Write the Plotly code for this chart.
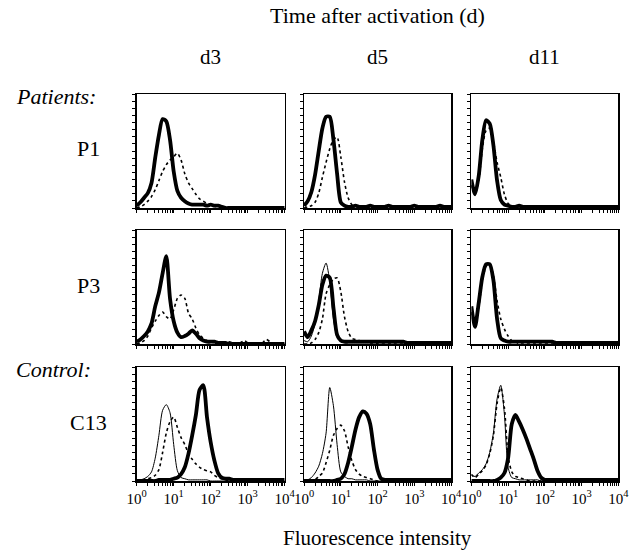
import plotly.graph_objects as go

# ---------------- data ----------------
# channel positions (log10 of fluorescence intensity)
bins_log10 = [0.0, 0.1, 0.2, 0.3, 0.4, 0.5, 0.6, 0.7, 0.8, 0.9,
              1.0, 1.1, 1.2, 1.3, 1.4, 1.5, 1.6, 1.7, 1.8, 1.9,
              2.0, 2.1, 2.2, 2.3, 2.4, 2.5, 2.6, 2.7, 2.8, 2.9,
              3.0, 3.1, 3.2, 3.3, 3.4, 3.5, 3.6, 3.7, 3.8, 3.9, 4.0]

column_labels = ["d3", "d5", "d11"]
row_labels = ["P1", "P3", "C13"]
tick_labels = ["10<sup>0</sup>", "10<sup>1</sup>", "10<sup>2</sup>", "10<sup>3</sup>", "10<sup>4</sup>"]

# cell counts, % of panel height
p1_d3_thick = [2, 5, 9, 13, 22, 44, 64, 78, 76, 60, 32, 15, 9, 6, 4, 3, 3, 3, 3, 2,
               3, 2, 2, 1, 0, 0, 0, 0, 0, 0, 0, 0, 0, 0, 0, 0, 0, 0, 0, 0, 0]
p1_d3_dotted = [0, 1, 3, 6, 10, 16, 24, 32, 38, 42, 45, 48, 42, 30, 22, 17, 12, 8, 6, 4,
                3, 2, 2, 1, 0, 0, 0, 0, 0, 0, 0, 0, 0, 0, 0, 0, 0, 0, 0, 0, 0]

p1_d5_thick = [2, 6, 14, 29, 50, 70, 80, 80, 60, 30, 5, 2, 1, 1, 2, 1, 1, 1, 2, 1,
               1, 1, 1, 2, 1, 1, 1, 1, 1, 1, 2, 1, 1, 1, 1, 1, 1, 2, 1, 1, 1]
p1_d5_dotted = [0, 1, 2, 5, 13, 27, 40, 52, 60, 62, 45, 23, 9, 3, 2, 1, 0, 0, 0, 0,
                0, 0, 0, 0, 0, 0, 0, 0, 0, 0, 0, 0, 0, 0, 0, 0, 0, 0, 0, 0, 0]

p1_d11_thick = [25, 12, 28, 60, 77, 74, 55, 24, 7, 3, 2, 1, 1, 2, 1, 1, 1, 1, 1, 1,
                1, 1, 1, 1, 1, 1, 1, 1, 1, 1, 1, 1, 1, 1, 1, 1, 1, 1, 1, 1, 1]
p1_d11_dotted = [20, 12, 24, 52, 68, 70, 58, 40, 27, 12, 4, 2, 0, 0, 0, 0, 0, 0, 0, 0,
                 0, 0, 0, 0, 0, 0, 0, 0, 0, 0, 0, 0, 0, 0, 0, 0, 0, 0, 0, 0, 0]

p3_d3_thick = [2, 4, 7, 11, 18, 33, 45, 62, 77, 40, 20, 10, 6, 7, 9, 12, 9, 5, 3, 2,
               2, 2, 1, 1, 1, 0, 0, 0, 0, 0, 0, 0, 0, 0, 0, 0, 0, 0, 0, 0, 0]
p3_d3_dotted = [0, 1, 3, 7, 14, 20, 25, 28, 24, 22, 30, 40, 43, 40, 27, 22, 14, 8, 5, 3,
                2, 1, 1, 1, 1, 2, 1, 0, 1, 3, 1, 0, 0, 0, 1, 4, 2, 0, 0, 0, 0]

p3_d5_thick = [11, 6, 12, 20, 34, 52, 60, 58, 32, 8, 3, 2, 2, 2, 2, 2, 2, 2, 2, 2,
               2, 2, 2, 2, 2, 2, 2, 2, 1, 1, 1, 1, 1, 1, 1, 1, 1, 1, 1, 1, 1]
p3_d5_thin = [3, 2, 7, 18, 38, 62, 71, 55, 22, 6, 2, 1, 1, 1, 1, 1, 1, 1, 1, 1,
              1, 1, 1, 1, 1, 1, 1, 1, 1, 1, 1, 1, 1, 1, 1, 1, 1, 1, 1, 1, 1]
p3_d5_dotted = [0, 0, 1, 4, 10, 22, 44, 52, 57, 58, 46, 24, 11, 5, 4, 3, 2, 2, 1, 1,
                0, 0, 0, 0, 0, 0, 0, 0, 0, 0, 0, 0, 0, 0, 0, 0, 0, 0, 0, 0, 0]

p3_d11_thick = [33, 15, 36, 59, 70, 70, 56, 22, 5, 3, 2, 2, 2, 2, 2, 2, 2, 2, 2, 2,
                2, 2, 2, 1, 1, 1, 1, 1, 1, 1, 1, 1, 1, 1, 1, 1, 1, 1, 1, 1, 1]
p3_d11_dotted = [28, 14, 32, 55, 68, 70, 60, 38, 22, 13, 7, 3, 2, 0, 0, 0, 0, 0, 0, 0,
                 0, 0, 0, 0, 0, 0, 0, 0, 0, 0, 0, 0, 0, 0, 0, 0, 0, 0, 0, 0, 0]

c13_d3_thin = [1, 1, 2, 4, 8, 20, 40, 62, 67, 60, 32, 9, 3, 2, 1, 1, 1, 1, 1, 1,
               0, 0, 0, 0, 0, 0, 0, 0, 0, 0, 0, 0, 0, 0, 0, 0, 0, 0, 0, 0, 0]
c13_d3_dotted = [0, 0, 1, 2, 3, 5, 10, 25, 42, 52, 56, 47, 38, 32, 24, 19, 15, 12, 10, 9,
                 8, 5, 3, 2, 1, 0, 0, 0, 0, 0, 0, 0, 0, 0, 0, 0, 0, 0, 0, 0, 0]
c13_d3_thick = [0, 0, 0, 0, 0, 0, 1, 1, 1, 1, 2, 3, 6, 12, 24, 40, 58, 80, 84, 56,
                34, 18, 7, 3, 2, 2, 1, 1, 1, 1, 1, 1, 1, 1, 1, 1, 1, 1, 1, 1, 1]

c13_d5_thin = [0, 1, 3, 7, 13, 24, 42, 82, 66, 32, 8, 4, 2, 2, 1, 1, 1, 1, 0, 0,
               0, 0, 0, 0, 0, 0, 0, 0, 0, 0, 0, 0, 0, 0, 0, 0, 0, 0, 0, 0, 0]
c13_d5_dotted = [0, 0, 0, 1, 4, 7, 16, 27, 40, 46, 49, 44, 30, 18, 10, 6, 4, 3, 2, 1,
                 0, 0, 0, 0, 0, 0, 0, 0, 0, 0, 0, 0, 0, 0, 0, 0, 0, 0, 0, 0, 0]
c13_d5_thick = [0, 0, 0, 0, 0, 0, 0, 0, 0, 1, 2, 6, 16, 30, 45, 56, 61, 59, 50, 28,
                10, 2, 1, 1, 1, 1, 1, 1, 1, 1, 1, 1, 1, 1, 1, 1, 1, 1, 1, 1, 1]

c13_d11_thin = [5, 4, 7, 10, 15, 25, 42, 72, 84, 58, 12, 3, 2, 1, 1, 1, 1, 1, 1, 0,
                0, 0, 0, 0, 0, 0, 0, 0, 0, 0, 0, 0, 0, 0, 0, 0, 0, 0, 0, 0, 0]
c13_d11_dotted = [6, 3, 6, 9, 14, 24, 40, 68, 82, 64, 22, 8, 4, 3, 2, 1, 0, 0, 0, 0,
                  0, 0, 0, 0, 0, 0, 0, 0, 0, 0, 0, 0, 0, 0, 0, 0, 0, 0, 0, 0, 0]
c13_d11_thick = [0, 0, 0, 0, 0, 0, 0, 1, 3, 7, 20, 50, 58, 52, 45, 37, 28, 19, 9, 3,
                 1, 1, 1, 1, 1, 1, 1, 1, 1, 1, 1, 1, 1, 1, 1, 1, 1, 1, 1, 1, 1]

panels = [
    [[("dotted", p1_d3_dotted), ("thick", p1_d3_thick)],
     [("dotted", p1_d5_dotted), ("thick", p1_d5_thick)],
     [("dotted", p1_d11_dotted), ("thick", p1_d11_thick)]],
    [[("dotted", p3_d3_dotted), ("thick", p3_d3_thick)],
     [("dotted", p3_d5_dotted), ("thin", p3_d5_thin), ("thick", p3_d5_thick)],
     [("dotted", p3_d11_dotted), ("thick", p3_d11_thick)]],
    [[("thin", c13_d3_thin), ("dotted", c13_d3_dotted), ("thick", c13_d3_thick)],
     [("thin", c13_d5_thin), ("dotted", c13_d5_dotted), ("thick", c13_d5_thick)],
     [("thin", c13_d11_thin), ("dotted", c13_d11_dotted), ("thick", c13_d11_thick)]],
]

# ---------------- layout ----------------
W, H = 640, 551
col_px = [(131, 284), (304, 456), (477, 629)]
row_px = [(94, 208), (230, 344), (367, 481)]
SERIF = "Liberation Serif, Times New Roman, serif"

styles = {
    "thick": dict(color="black", width=3.8),
    "thin": dict(color="black", width=1.0),
    "dotted": dict(color="black", width=1.6, dash="dot"),
}

x_values = [10 ** v for v in bins_log10]
tick_positions = [m * 10 ** d for d in range(4) for m in range(1, 10)] + [10000]

fig = go.Figure()
layout = dict(width=W, height=H, margin=dict(l=0, r=0, t=0, b=0),
              paper_bgcolor="white", plot_bgcolor="white", showlegend=False,
              font=dict(family=SERIF, color="black", size=15))

n = 0
for r in range(3):
    for c in range(3):
        n += 1
        xa = "x" if n == 1 else f"x{n}"
        ya = "y" if n == 1 else f"y{n}"
        for kind, vals in panels[r][c]:
            fig.add_trace(go.Scatter(x=x_values, y=vals, mode="lines",
                                     line=dict(shape="spline", smoothing=0.7, **styles[kind]),
                                     xaxis=xa, yaxis=ya, hoverinfo="skip"))
        x0, x1 = col_px[c]
        y0, y1 = row_px[r]
        ticktext = [""] * len(tick_positions)
        if r == 2:
            for k, d in enumerate([1, 10, 100, 1000, 10000]):
                ticktext[tick_positions.index(d)] = tick_labels[k]
        layout["xaxis" if n == 1 else f"xaxis{n}"] = dict(
            domain=[x0 / W, x1 / W], anchor=ya, type="log", range=[0, 4],
            showgrid=False, zeroline=False, showline=True, mirror=True,
            linecolor="black", linewidth=1.5, ticks="outside", ticklen=3,
            tickwidth=1, tickcolor="black", tickmode="array",
            tickvals=tick_positions, ticktext=ticktext,
            tickfont=dict(family=SERIF, size=15, color="black"), fixedrange=True)
        layout["yaxis" if n == 1 else f"yaxis{n}"] = dict(
            domain=[1 - y1 / H, 1 - y0 / H], anchor=xa, range=[0, 100],
            showgrid=False, zeroline=False, showline=True, mirror=True,
            linecolor="black", linewidth=1.5, ticks="outside", ticklen=3,
            tickwidth=1, tickcolor="black", tick0=0, dtick=6.25,
            showticklabels=False, fixedrange=True)

fig.update_layout(**layout)

ann = []
def add_text(text, x, y, size, italic=False, xanchor="center"):
    if italic:
        text = f"<i>{text}</i>"
    ann.append(dict(text=text, x=x / W, y=1 - y / H, xref="paper", yref="paper",
                    xanchor=xanchor, yanchor="middle", showarrow=False,
                    font=dict(family=SERIF, size=size, color="black")))

add_text("Time after activation (d)", 380, 15, 22)
for c, lab in enumerate(column_labels):
    add_text(lab, (col_px[c][0] + col_px[c][1]) / 2, 57, 21)
add_text("Patients:", 4, 96, 22, italic=True, xanchor="left")
add_text("Control:", 4, 369, 22, italic=True, xanchor="left")
for r, lab in enumerate(row_labels):
    add_text(lab, 81, (row_px[r][0] + row_px[r][1]) / 2 - 2, 22)
add_text("Fluorescence intensity", 380, 538, 21)
fig.update_layout(annotations=ann)

fig.write_html("out.html", config={"displayModeBar": False, "staticPlot": True},
               post_script="document.body.style.margin='0';document.body.style.overflow='hidden';")
